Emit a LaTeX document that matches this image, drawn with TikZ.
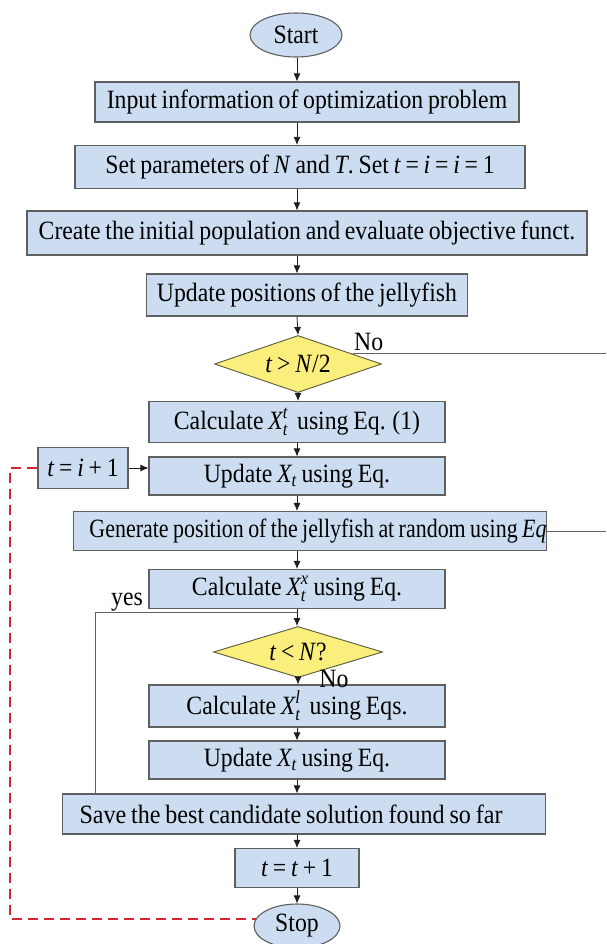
\documentclass[tikz,border=0pt]{standalone}
\usepackage{amsmath}
\usepackage{fontspec}
\setmainfont[FakeStretch=0.9,WordSpace=0.8]{Liberation Serif}
\usetikzlibrary{shapes.geometric,arrows.meta,calc}
\definecolor{boxfill}{RGB}{205,221,241}
\definecolor{boxline}{RGB}{95,95,95}
\definecolor{dfill}{RGB}{250,238,125}
\definecolor{dline}{RGB}{90,90,60}
\definecolor{redd}{RGB}{208,38,52}
\definecolor{conn}{RGB}{30,30,30}
\newcommand{\vi}[1]{\textit{#1}}
\begin{document}
\begin{tikzpicture}[x=1pt,y=-1pt,
  font=\fontsize{26.4}{30}\selectfont,
  pbox/.style={draw=boxline, fill=boxfill, line width=1.1pt, inner sep=0pt, minimum height=#1},
  pbox/.default=40pt,
  dbox/.style={shape=diamond, draw=dline, fill=dfill, line width=0.9pt, inner sep=0pt, aspect=3},
  ebox/.style={shape=ellipse, draw=boxline, fill=boxfill, line width=1.1pt, inner sep=0pt},
  arr/.style={draw=conn, line width=0.8pt, -{Latex[length=8pt,width=7pt]}},
  plain/.style={draw=conn!70, line width=0.8pt},
  reddash/.style={draw=redd, line width=2pt, dash pattern=on 10pt off 6pt},
  lbl/.style={inner sep=0pt}
]
\useasboundingbox (0,0) rectangle (606,944);
\fill[white] (0,0) rectangle (606,944);
\coordinate (col) at (297,0);

\node[ebox, minimum width=92pt, minimum height=44pt] (start) at (296,35) {Start};
\node[pbox=40pt, minimum width=424pt] (input) at (307,102) {Input information of optimization problem};
\node[pbox=43pt, minimum width=450pt] (set) at (300,167) {Set parameters of \vi{N} and \vi{T}. Set \vi{t} = \vi{i} = \vi{i} = 1};
\node[pbox=44pt, minimum width=560pt] (create) at (307,233) {Create the initial population and evaluate objective funct.};
\node[pbox=42pt, minimum width=321pt] (upd) at (307,295) {Update positions of the jellyfish};
\node[dbox, minimum width=167pt, minimum height=57pt] (d1) at (298,364) {\vi{t} > \vi{N}/2};
\node[pbox=41pt, minimum width=296pt] (calc1) at (297,422) {Calculate \(\vi{X}^{\vi{t}}_{\vi{t}}\)\, using Eq. (1)};
\node[pbox=41pt, minimum width=90pt] (tib) at (83,468) {\vi{t} = \vi{i} + 1};
\node[pbox=38pt, minimum width=296pt] (upd1) at (297,476) {Update \(\vi{X}_{\vi{t}}\) using Eq.};
\node[pbox=39pt] (gen) at (310,531) {\makebox[473pt][r]{\resizebox{457pt}{\height}{Generate position of the jellyfish at random using \vi{Eq}}}};
\node[pbox=39pt, minimum width=296pt] (calc2) at (297,589) {Calculate \(\vi{X}^{\vi{x}}_{\vi{t}}\) using Eq.};
\node[dbox, minimum width=169pt, minimum height=51pt] (d2) at (298,652) {\vi{t} < \vi{N}?};
\node[pbox=42pt, minimum width=296pt] (calc3) at (297,706) {Calculate \(\vi{X}^{\vi{l}}_{\vi{t}}\)\, using Eqs.};
\node[pbox=38pt, minimum width=296pt] (upd2) at (297,760) {Update \(\vi{X}_{\vi{t}}\) using Eq.};
\node[pbox=40pt] (save) at (304,814) {\makebox[483pt][l]{\hspace*{17pt}\resizebox{423pt}{\height}{Save the best candidate solution found so far}}};
\node[pbox=39pt, minimum width=124pt] (tt) at (297,868) {\vi{t} = \vi{t} + 1};
\node[ebox, minimum width=86pt, minimum height=44pt] (stop) at (297,926) {Stop};

% main flow
\draw[arr] (start.south -| col) -- (input.north -| col);
\draw[arr] (input.south -| col) -- (set.north -| col);
\draw[arr] (set.south -| col) -- (create.north -| col);
\draw[arr] (create.south -| col) -- (upd.north -| col);
\draw[arr] (upd.south -| col) -- (d1.north);
\draw[arr] (d1.south) -- (calc1.north -| d1.south);
\draw[arr] (calc1.south -| col) -- (upd1.north -| col);
\draw[arr] (upd1.south -| col) -- (gen.north -| col);
\draw[arr] (gen.south -| col) -- (calc2.north -| col);
\draw[arr] (calc2.south -| col) -- (d2.north -| col);
\draw[arr] (d2.south) -- (calc3.north -| d2.south);
\draw[arr] (calc3.south -| col) -- (upd2.north -| col);
\draw[arr] (upd2.south -| col) -- (save.north -| col);
\draw[arr] (save.south -| col) -- (tt.north -| col);
\draw[arr] (tt.south -| col) -- (stop.north -| col);

% side branch t = i + 1
\draw[arr] (tib.east) -- (tib.east -| upd1.west);

% "No" branch of first decision
\coordinate (noA) at ($(d1.north east)!0.3!(d1.east)$);
\coordinate (noEnd) at (606,354);
\draw[plain] (noA) -- (noA -| noEnd);
\node[lbl, anchor=south west] (no1) at (354,351) {No};

% line from generate box
\coordinate (genEnd) at (606,531);
\draw[plain] (gen.east) -- (gen.east -| genEnd);

% yes loop
\coordinate (yesA) at (95,612);
\coordinate (yesB) at (297,612);
\draw[plain] (save.north -| yesA) -- (yesA) -- (yesB);
\node[lbl, anchor=south] (yes) at (127,611) {yes};

% No label of second decision
\node[lbl, anchor=center] (no2) at (334,679) {No};

% red dashed return
\coordinate (redx) at (10,468);
\draw[reddash] (tib.west) -- (redx) |- (stop.170);
\end{tikzpicture}
\end{document}
